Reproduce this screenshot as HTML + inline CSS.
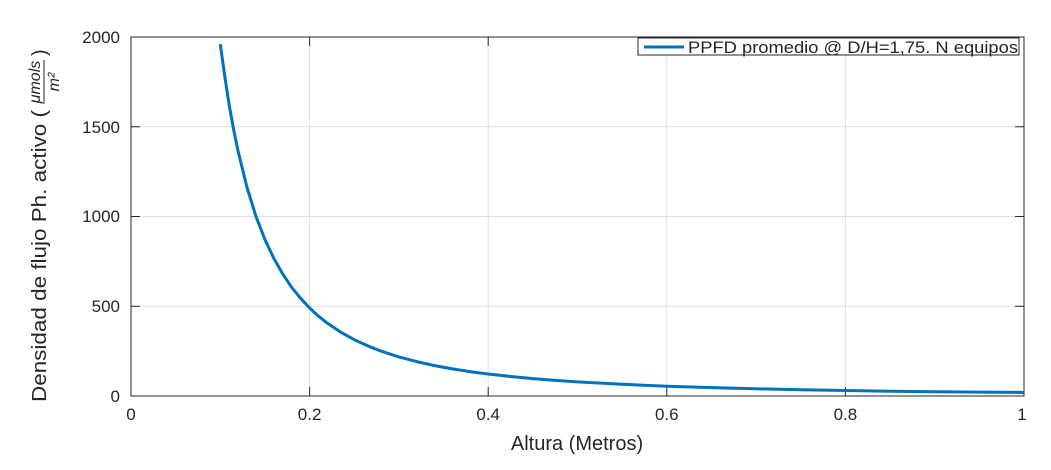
<!DOCTYPE html><html><head><style>body{margin:0;background:#fff}svg{display:block}text{font-family:"Liberation Sans","DejaVu Sans",sans-serif;fill:#262626}</style></head><body>
<svg width="1051" height="470" viewBox="0 0 1051 470">
<rect x="131" y="37" width="893" height="359" fill="#fff"/>
<g stroke="#dfdfdf" stroke-width="1">
<line x1="309.6" y1="37" x2="309.6" y2="396"/><line x1="488.2" y1="37" x2="488.2" y2="396"/><line x1="666.8" y1="37" x2="666.8" y2="396"/><line x1="845.4" y1="37" x2="845.4" y2="396"/>
<line x1="131" y1="126.75" x2="1024" y2="126.75"/><line x1="131" y1="216.5" x2="1024" y2="216.5"/><line x1="131" y1="306.25" x2="1024" y2="306.25"/>
</g>
<g stroke="#262626" stroke-width="1">
<rect x="131" y="37" width="893" height="359" fill="none"/>
<line x1="309.6" y1="396" x2="309.6" y2="387"/><line x1="488.2" y1="396" x2="488.2" y2="387"/><line x1="666.8" y1="396" x2="666.8" y2="387"/><line x1="845.4" y1="396" x2="845.4" y2="387"/>
<line x1="309.6" y1="37" x2="309.6" y2="46"/><line x1="488.2" y1="37" x2="488.2" y2="46"/><line x1="666.8" y1="37" x2="666.8" y2="46"/><line x1="845.4" y1="37" x2="845.4" y2="46"/>
<line x1="131" y1="126.75" x2="140" y2="126.75"/><line x1="131" y1="216.5" x2="140" y2="216.5"/><line x1="131" y1="306.25" x2="140" y2="306.25"/>
<line x1="1024" y1="126.75" x2="1015" y2="126.75"/><line x1="1024" y1="216.5" x2="1015" y2="216.5"/><line x1="1024" y1="306.25" x2="1015" y2="306.25"/>
</g>
<polyline fill="none" stroke="#0072bd" stroke-width="3" stroke-linejoin="round" points="220.3,44.2 224.8,76.6 229.2,105.2 233.7,130 238.2,151.7 247.1,187.8 256,216.5 265,239.7 273.9,258.5 282.8,274 291.7,287.4 300.7,298.3 309.6,308 318.5,316.2 327.5,323.3 340.9,332.3 354.3,339.7 367.7,345.8 381,351.1 398.9,356.9 416.8,361.6 434.6,365.6 452.5,368.9 470.4,371.7 488.2,374 510.6,376.5 532.9,378.6 555.2,380.4 577.5,381.9 622.2,384.3 666.8,386.2 711.5,387.6 756.1,388.8 800.8,389.7 845.4,390.5 890,391.2 934.7,391.7 979.3,392.1 1024,392.5"/>
<g font-size="17" text-anchor="middle">
<text x="131" y="420">0</text><text x="309.6" y="420">0.2</text><text x="488.2" y="420">0.4</text><text x="666.8" y="420">0.6</text><text x="845.4" y="420">0.8</text><text x="1022" y="420">1</text>
</g>
<g font-size="17" text-anchor="end">
<text x="120" y="43">2000</text><text x="120" y="133">1500</text><text x="120" y="222">1000</text><text x="120" y="312">500</text><text x="120" y="402">0</text>
</g>
<text x="577" y="450" font-size="20" text-anchor="middle">Altura (Metros)</text>
<g transform="translate(46,402) rotate(-90)">
<text x="0" y="0" font-size="20" textLength="292" lengthAdjust="spacingAndGlyphs">Densidad de flujo Ph. activo (</text>
<text x="320" y="-6" font-size="16" font-style="italic" font-family="Liberation Serif" text-anchor="middle">μmols</text>
<line x1="298" y1="-2" x2="342" y2="-2" stroke="#262626" stroke-width="1"/>
<text x="320" y="13" font-size="16" font-style="italic" font-family="Liberation Serif" text-anchor="middle">m²</text>
<text x="346" y="0" font-size="20">)</text>
</g>
<rect x="638" y="38" width="381" height="17" fill="#fff" stroke="#262626" stroke-width="1"/>
<line x1="644" y1="47" x2="684" y2="47" stroke="#0072bd" stroke-width="3"/>
<text x="688" y="53" font-size="17" textLength="330" lengthAdjust="spacingAndGlyphs">PPFD promedio @ D/H=1,75. N equipos</text>
</svg></body></html>
